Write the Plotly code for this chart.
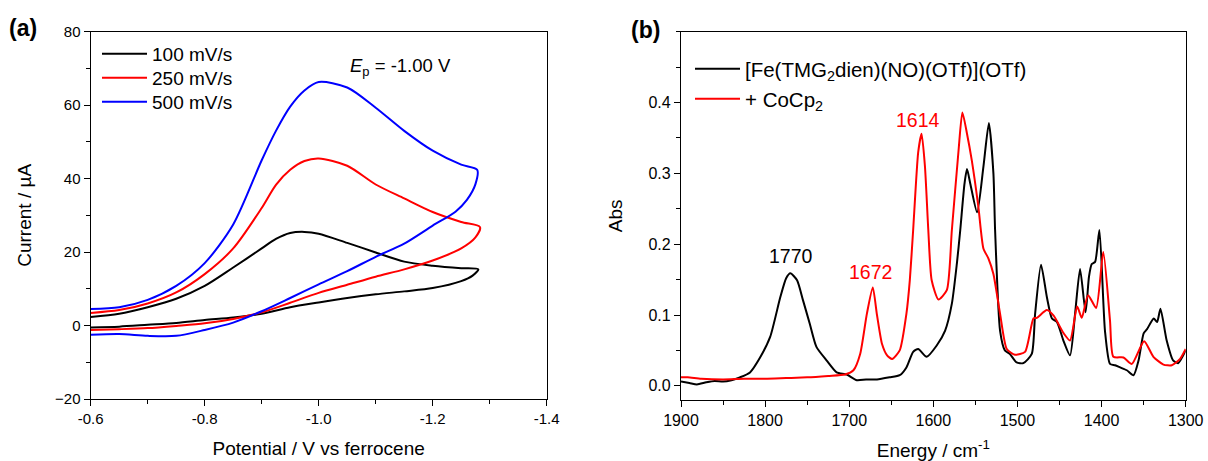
import plotly.graph_objects as go

FONT = "Liberation Sans, Arial, sans-serif"

# ---------------- Panel (a): cyclic voltammograms ----------------
# forward (cathodic) branch then return branch
cv_100_V = [-0.60, -0.65, -0.70, -0.75, -0.80, -0.85, -0.90, -0.925, -0.95, -0.975, -1.00, -1.05, -1.10,
            -1.15, -1.20, -1.25, -1.28,
            -1.27, -1.25, -1.20, -1.15, -1.10, -1.05, -1.00, -0.95, -0.90, -0.85, -0.80, -0.75,
            -0.70, -0.65, -0.60]
cv_100_I = [2.3, 3.2, 5.0, 7.3, 10.8, 15.8, 21.0, 23.6, 25.2, 25.5, 25.0, 22.5, 19.9,
            17.4, 16.3, 15.6, 15.3,
            13.6, 12.1, 10.2, 9.3, 8.5, 7.5, 6.3, 5.0, 3.2, 2.2, 1.5, 0.7,
            0.2, -0.3, -0.5]

cv_250_V = [-0.60, -0.65, -0.70, -0.75, -0.80, -0.85, -0.90, -0.925, -0.95, -0.975, -1.00, -1.05, -1.10,
            -1.15, -1.20, -1.25, -1.283,
            -1.275, -1.25, -1.20, -1.15, -1.10, -1.05, -1.00, -0.95, -0.90, -0.85, -0.80, -0.75,
            -0.70, -0.65, -0.60]
cv_250_I = [3.4, 4.2, 6.0, 9.0, 14.0, 21.0, 32.0, 38.3, 42.4, 44.8, 45.5, 43.5, 38.4,
            34.6, 30.9, 28.2, 26.8,
            24.0, 21.0, 17.7, 15.3, 13.3, 11.1, 8.9, 6.2, 3.6, 1.8, 0.6, -0.1,
            -0.7, -1.0, -1.2]

cv_500_V = [-0.60, -0.65, -0.70, -0.75, -0.80, -0.85, -0.90, -0.925, -0.95, -0.975, -1.00, -1.05, -1.10,
            -1.15, -1.20, -1.25, -1.278,
            -1.275, -1.26, -1.24, -1.20, -1.15, -1.10, -1.05, -1.00, -0.95, -0.90, -0.85, -0.80,
            -0.75, -0.70, -0.65, -0.60]
cv_500_I = [4.5, 5.0, 7.0, 10.8, 17.0, 27.5, 45.0, 53.0, 59.6, 64.0, 66.3, 64.8, 59.3,
            53.0, 47.6, 43.8, 42.4,
            38.5, 34.2, 31.0, 27.2, 22.3, 18.7, 14.8, 11.2, 7.5, 3.9, 0.8, -1.2,
            -2.8, -2.8, -2.3, -2.5]

cv_names = ["100 mV/s", "250 mV/s", "500 mV/s"]
cv_colors = ["#000000", "#ff0000", "#0000ff"]

x_ticks_a = [-0.6, -0.8, -1.0, -1.2, -1.4]
x_ticklabels_a = ["-0.6", "-0.8", "-1.0", "-1.2", "-1.4"]
y_ticks_a = [-20, 0, 20, 40, 60, 80]

# ---------------- Panel (b): IR spectra ----------------
ir_black_wn = [1900, 1890, 1881, 1870, 1860, 1850, 1840, 1830, 1818, 1806, 1794, 1782, 1775, 1770,
               1762, 1755, 1747, 1739, 1727, 1715, 1703, 1691, 1680, 1667, 1652, 1640, 1632, 1624,
               1618, 1608, 1596, 1586, 1578, 1572, 1568, 1563, 1560, 1556, 1548, 1540.5, 1534,
               1528.6, 1526.6, 1520.7, 1515, 1509, 1501, 1493, 1483, 1479, 1472, 1465, 1459, 1453,
               1445.4, 1437.5, 1431.5, 1425.6, 1419, 1415, 1411.7, 1407.7, 1402.6, 1396, 1390, 1384,
               1378, 1370, 1362, 1356, 1350, 1346, 1338, 1334, 1330, 1322.6, 1315, 1309, 1300]
ir_black_abs = [0.006, 0.004, 0.002, 0.005, 0.007, 0.006, 0.008, 0.012, 0.019, 0.040, 0.069, 0.125, 0.152, 0.159,
                0.149, 0.121, 0.088, 0.055, 0.036, 0.019, 0.016, 0.008, 0.009, 0.009, 0.012, 0.015, 0.026, 0.048,
                0.052, 0.041, 0.057, 0.078, 0.116, 0.173, 0.220, 0.285, 0.306, 0.285, 0.245, 0.309, 0.371,
                0.300, 0.220, 0.078, 0.050, 0.045, 0.033, 0.032, 0.045, 0.102, 0.171, 0.125, 0.095, 0.090,
                0.064, 0.043, 0.102, 0.165, 0.104, 0.154, 0.172, 0.175, 0.220, 0.078, 0.031, 0.029,
                0.026, 0.022, 0.015, 0.036, 0.074, 0.080, 0.095, 0.090, 0.109, 0.064, 0.036, 0.032, 0.050]

ir_red_wn = [1900, 1892, 1876, 1850, 1825, 1800, 1775, 1750, 1725, 1705, 1695, 1687, 1679, 1672, 1667,
             1661, 1655, 1649, 1640, 1632, 1628, 1624, 1618, 1614, 1610, 1606, 1602, 1594, 1584, 1578,
             1570, 1565.5, 1560, 1554.4, 1546.5, 1540.5, 1534.6, 1528.6, 1520.7, 1512.7, 1503, 1491,
             1481, 1477, 1465, 1457, 1445, 1437.5, 1429, 1423.6, 1416, 1406.5, 1398, 1390, 1386, 1374,
             1364, 1349.5, 1338.4, 1326.5, 1316.6, 1306.7, 1300]
ir_red_abs = [0.012, 0.012, 0.010, 0.009, 0.010, 0.010, 0.011, 0.012, 0.014, 0.016, 0.022, 0.045, 0.102, 0.139, 0.100,
              0.059, 0.043, 0.038, 0.050, 0.102, 0.149, 0.220, 0.330, 0.356, 0.310, 0.220, 0.149, 0.122, 0.135, 0.220,
              0.333, 0.386, 0.356, 0.319, 0.253, 0.194, 0.180, 0.158, 0.102, 0.052, 0.044, 0.048,
              0.095, 0.096, 0.107, 0.099, 0.074, 0.064, 0.112, 0.096, 0.128, 0.110, 0.189, 0.092, 0.041, 0.040,
              0.031, 0.063, 0.041, 0.030, 0.029, 0.038, 0.052]

ir_names = ["[Fe(TMG<sub>2</sub>dien)(NO)(OTf)](OTf)", "+ CoCp<sub>2</sub>"]
ir_colors = ["#000000", "#ff0000"]

x_ticks_b = [1900, 1800, 1700, 1600, 1500, 1400, 1300]
y_ticks_b = [0.0, 0.1, 0.2, 0.3, 0.4]
y_ticklabels_b = ["0.0", "0.1", "0.2", "0.3", "0.4"]

peak_labels = ["1770", "1672", "1614"]
peak_label_x = [1769, 1674.3, 1617.8]
peak_label_y = [0.183, 0.161, 0.375]
peak_label_colors = ["#000000", "#ff0000", "#ff0000"]

# ---------------- figure ----------------
fig = go.Figure()

cv_legends = ["legend", "legend3", "legend4"]
for V, I, name, col, lg in zip([cv_100_V, cv_250_V, cv_500_V], [cv_100_I, cv_250_I, cv_500_I],
                               cv_names, cv_colors, cv_legends):
    fig.add_trace(go.Scatter(x=V, y=I, mode="lines", name=name,
                             line=dict(color=col, width=2, shape="spline", smoothing=0.8),
                             xaxis="x", yaxis="y", legend=lg))

ir_legends = ["legend2", "legend5"]
for wn, ab, name, col, lg in zip([ir_black_wn, ir_red_wn], [ir_black_abs, ir_red_abs], ir_names, ir_colors,
                                 ir_legends):
    fig.add_trace(go.Scatter(x=wn, y=ab, mode="lines", name=name,
                             line=dict(color=col, width=2, shape="spline", smoothing=0.6),
                             xaxis="x2", yaxis="y2", legend=lg))

axis_common = dict(showline=True, linecolor="black", linewidth=1.3, mirror=True,
                   ticks="outside", ticklen=6, tickwidth=1.2, tickcolor="black",
                   showgrid=False, zeroline=False, automargin=False)


def leg(xpx, ypx, size):
    return dict(x=xpx / 1208, y=1 - ypx / 461, xanchor="left", yanchor="middle",
                bgcolor="rgba(0,0,0,0)", borderwidth=0, itemwidth=45,
                font=dict(size=size, family=FONT), tracegroupgap=0)


fig.update_layout(
    width=1208, height=461,
    margin=dict(l=0, r=0, t=0, b=0),
    paper_bgcolor="white", plot_bgcolor="white",
    font=dict(family=FONT, color="black"),
    showlegend=True,
    xaxis=dict(domain=[90.7 / 1208, 546.7 / 1208], anchor="y",
               range=[-0.6, -1.4], tickvals=x_ticks_a, ticktext=x_ticklabels_a,
               tickfont=dict(size=15, family=FONT),
               minor=dict(ticks="outside", ticklen=3.5, dtick=0.1, tickcolor="black", tickwidth=1.2),
               title=dict(text="Potential / V vs ferrocene", font=dict(size=19, family=FONT), standoff=15),
               **axis_common),
    yaxis=dict(domain=[1 - 399 / 461, 1 - 31.7 / 461], anchor="x",
               range=[-20, 80], tickvals=y_ticks_a,
               tickfont=dict(size=15, family=FONT),
               minor=dict(ticks="outside", ticklen=3.5, dtick=10, tickcolor="black", tickwidth=1.2),
               title=dict(text="Current / µA", font=dict(size=19, family=FONT), standoff=18),
               **axis_common),
    xaxis2=dict(domain=[681 / 1208, 1185.7 / 1208], anchor="y2",
                range=[1900, 1300], tickvals=x_ticks_b,
                tickfont=dict(size=16, family=FONT),
                minor=dict(ticks="outside", ticklen=3.5, dtick=50, tickcolor="black", tickwidth=1.2),
                title=dict(text="Energy / cm<sup>-1</sup>", font=dict(size=19, family=FONT), standoff=17),
                **axis_common),
    yaxis2=dict(domain=[1 - 400 / 461, 1 - 31.7 / 461], anchor="x2",
                range=[-0.02, 0.5], tickvals=y_ticks_b, ticktext=y_ticklabels_b,
                tickfont=dict(size=16, family=FONT),
                minor=dict(ticks="outside", ticklen=3.5, dtick=0.05, tickcolor="black", tickwidth=1.2),
                title=dict(text="Abs", font=dict(size=19, family=FONT), standoff=20),
                **axis_common),
    legend=leg(97, 54, 19),
    legend3=leg(97, 78, 19),
    legend4=leg(97, 102, 19),
    legend2=leg(690, 69, 20.5),
    legend5=leg(690, 99, 20.5),
)

annotations = [
    dict(text="<b>(a)</b>", x=23 / 1208, y=1 - 28 / 461, xref="paper", yref="paper",
         showarrow=False, font=dict(size=23, family=FONT), xanchor="center", yanchor="middle"),
    dict(text="<b>(b)</b>", x=645 / 1208, y=1 - 30 / 461, xref="paper", yref="paper",
         showarrow=False, font=dict(size=23, family=FONT), xanchor="center", yanchor="middle"),
    dict(text="<i>E</i><sub>p</sub> = -1.00 V", x=400 / 1208, y=1 - 67 / 461, xref="paper", yref="paper",
         showarrow=False, font=dict(size=18.5, family=FONT), xanchor="center", yanchor="middle"),
]
for t, px, py, c in zip(peak_labels, peak_label_x, peak_label_y, peak_label_colors):
    annotations.append(dict(text=t, x=px, y=py, xref="x2", yref="y2", showarrow=False,
                            font=dict(size=19.5, family=FONT, color=c),
                            xanchor="center", yanchor="middle"))
fig.update_layout(annotations=annotations)

fig.write_html("out.html")
